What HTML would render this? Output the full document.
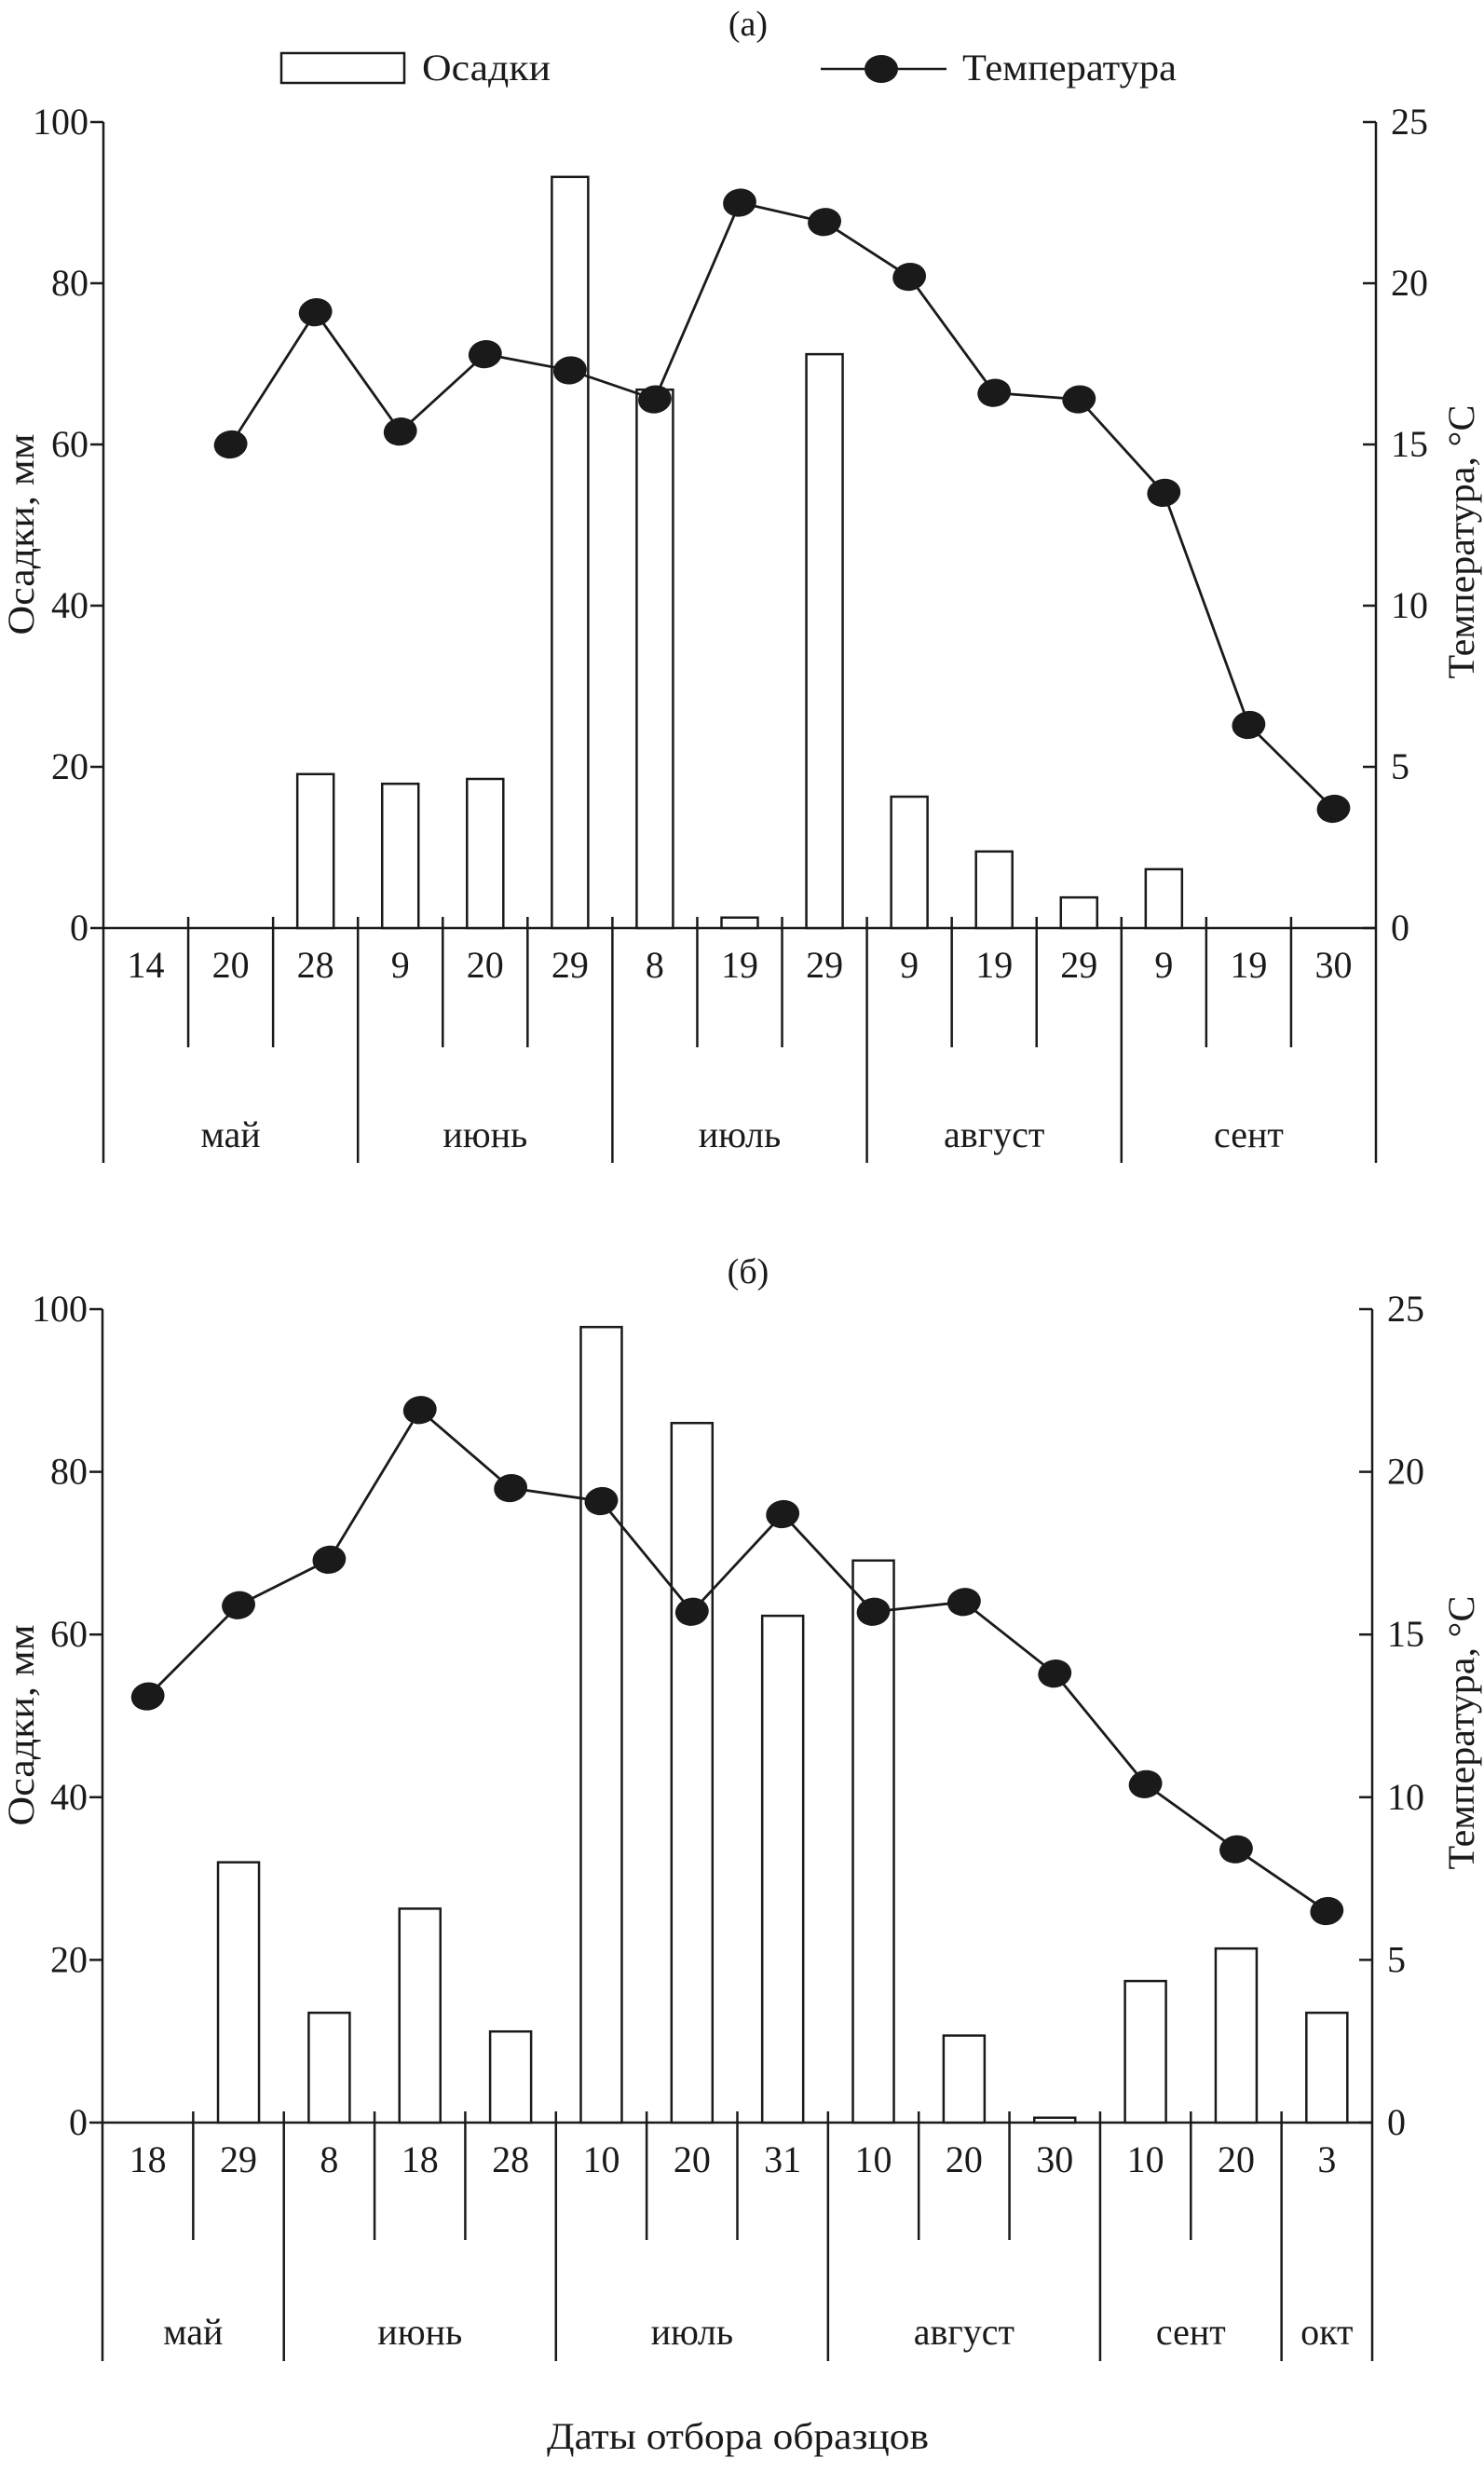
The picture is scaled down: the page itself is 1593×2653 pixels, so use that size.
<!DOCTYPE html>
<html><head><meta charset="utf-8"><style>
html,body{margin:0;padding:0;background:#fff}
svg{display:block;font-family:"Liberation Serif","DejaVu Serif",serif}
</style></head><body>
<svg id="chart" width="1593" height="2653" viewBox="0 0 1593 2653" xmlns="http://www.w3.org/2000/svg"></svg>
<script>
// ---- Panel (a) data ----
const daysA = ["14","20","28","9","20","29","8","19","29","9","19","29","9","19","30"];
const monthsA = ["май","июнь","июль","август","сент"];
const monthSpansA = [3,3,3,3,3];
const rainA = [0,0,19.1,17.9,18.5,93.2,66.8,1.3,71.2,16.3,9.5,3.8,7.3,0,0];
const tempA = [null,15.0,19.1,15.4,17.8,17.3,16.4,22.5,21.9,20.2,16.6,16.4,13.5,6.3,3.7];
// ---- Panel (б) data ----
const daysB = ["18","29","8","18","28","10","20","31","10","20","30","10","20","3"];
const monthsB = ["май","июнь","июль","август","сент","окт"];
const monthSpansB = [2,3,3,3,2,1];
const rainB = [0,32,13.5,26.3,11.2,97.8,86,62.3,69.1,10.7,0.6,17.4,21.4,13.5];
const tempB = [13.1,15.9,17.3,21.9,19.5,19.1,15.7,18.7,15.7,16.0,13.8,10.4,8.4,6.5];
const leftTicks = [0,20,40,60,80,100];
const rightTicks = [0,5,10,15,20,25];

const NS="http://www.w3.org/2000/svg";
const svg=document.getElementById('chart');
const FS=40;
function mk(tag,attrs,parent,text){const e=document.createElementNS(NS,tag);for(const k in attrs)e.setAttribute(k,attrs[k]);if(text!==undefined)e.textContent=text;(parent||svg).appendChild(e);return e;}

function panel(cfg){
  const g=mk('g',{});
  
  
  const {x0,x1,y0,y100,tickEnd,bottom,barW}=cfg;
  const n=cfg.days.length, slot=(x1-x0)/n;
  const xC=i=>x0+slot*(i+0.5);
  const yR=v=>y0-(v/100)*(y0-y100);
  const yT=v=>y0-(v/25)*(y0-y100);
  const st={stroke:'#1a1a1a','stroke-width':2.5,fill:'none'};
  const la=mk('line',Object.assign({x1:x0,y1:y100,x2:x0,y2:bottom},st),g);
  
  const ra=mk('line',Object.assign({x1:x1,y1:y100,x2:x1,y2:bottom},st),g);
  
  const xa=mk('line',Object.assign({x1:x0,y1:y0,x2:x1,y2:y0},st),g);
  
  leftTicks.forEach(v=>{
    mk('line',Object.assign({x1:x0-14,y1:yR(v),x2:x0,y2:yR(v)},st),g);
    const t=mk('text',{x:x0-16,y:yR(v)+13,'text-anchor':'end','font-size':FS,fill:'#1a1a1a'},g,String(v));
    
  });
  rightTicks.forEach(v=>{
    mk('line',Object.assign({x1:x1-14,y1:yT(v),x2:x1,y2:yT(v)},st),g);
    const t=mk('text',{x:x1+16,y:yT(v)+13,'font-size':FS,fill:'#1a1a1a'},g,String(v));
    
  });
  const longIdx=new Set();let acc=0;cfg.spans.forEach(s=>{acc+=s;longIdx.add(acc);});
  for(let i=1;i<n;i++){
    const x=x0+slot*i;
    mk('line',Object.assign({x1:x,y1:y0-12,x2:x,y2:longIdx.has(i)?bottom:tickEnd},st),g);
  }
  cfg.days.forEach((d,i)=>{
    const t=mk('text',{x:xC(i),y:cfg.dayY,'text-anchor':'middle','font-size':FS,fill:'#1a1a1a'},g,d);
    
  });
  acc=0;cfg.months.forEach((m,k)=>{
    const cx=x0+slot*(acc+cfg.spans[k]/2);acc+=cfg.spans[k];
    const t=mk('text',{x:cx,y:cfg.monthY,'text-anchor':'middle','font-size':FS,fill:'#1a1a1a'},g,m);
    
  });
  cfg.rain.forEach((v,i)=>{
    if(v<=0)return;
    const b=mk('rect',{x:xC(i)-barW/2,y:yR(v),width:barW,height:y0-yR(v),fill:'#fff',stroke:'#1a1a1a','stroke-width':2.5},g);
    
  });
  const pts=[];cfg.temp.forEach((v,i)=>{if(v!==null)pts.push([xC(i),yT(v)]);});
  const pl=mk('polyline',{points:pts.map(p=>p.join(',')).join(' '),fill:'none',stroke:'#1a1a1a','stroke-width':2.8},g);
  
  pts.forEach(p=>{
    const m=mk('ellipse',{cx:p[0],cy:p[1],rx:18,ry:15,fill:'#1a1a1a',transform:`rotate(-10 ${p[0]} ${p[1]})`},g);
    
  });
  const cyL=(y100+y0)/2+10;
  const lt=mk('text',{x:0,y:0,'text-anchor':'middle','font-size':40,fill:'#1a1a1a',textLength:216,lengthAdjust:'spacingAndGlyphs',transform:`translate(36 ${cyL}) rotate(-90)`},g,'Осадки, мм');
  
  const rt=mk('text',{x:0,y:0,'text-anchor':'middle','font-size':40,fill:'#1a1a1a',textLength:294,lengthAdjust:'spacingAndGlyphs',transform:`translate(1582 ${cyL+8}) rotate(-90)`},g,'Температура, °C');
  
  const tt=mk('text',{x:803,y:cfg.titleY,'text-anchor':'middle','font-size':38,fill:'#1a1a1a'},g,cfg.title);
  
}

panel({name:'panel-a',title:'(а)',titleY:38,days:daysA,months:monthsA,spans:monthSpansA,rain:rainA,temp:tempA,
  x0:111,x1:1477,y0:996,y100:131,tickEnd:1124,bottom:1248,barW:39,dayY:1049,monthY:1231});
panel({name:'panel-b',title:'(б)',titleY:1377,days:daysB,months:monthsB,spans:monthSpansB,rain:rainB,temp:tempB,
  x0:110,x1:1473,y0:2278,y100:1405,tickEnd:2404,bottom:2534,barW:44,dayY:2331,monthY:2516});

const lg=mk('g',{});

const lr=mk('rect',{x:302,y:57,width:132,height:32,fill:'#fff',stroke:'#1a1a1a','stroke-width':2.5},lg);

const l1=mk('text',{x:453,y:86,'font-size':FS,fill:'#1a1a1a',textLength:138,lengthAdjust:'spacingAndGlyphs'},lg,'Осадки');

mk('line',{x1:881,y1:74,x2:1016,y2:74,stroke:'#1a1a1a','stroke-width':2.5},lg);
const le=mk('ellipse',{cx:946,cy:74,rx:18,ry:15,fill:'#1a1a1a'},lg);

const l2=mk('text',{x:1033,y:86,'font-size':FS,fill:'#1a1a1a',textLength:230,lengthAdjust:'spacingAndGlyphs'},lg,'Температура');


const xt=mk('text',{x:792,y:2628,'text-anchor':'middle','font-size':FS,fill:'#1a1a1a',textLength:410,lengthAdjust:'spacingAndGlyphs'},svg,'Даты отбора образцов');

</script>
</body></html>
